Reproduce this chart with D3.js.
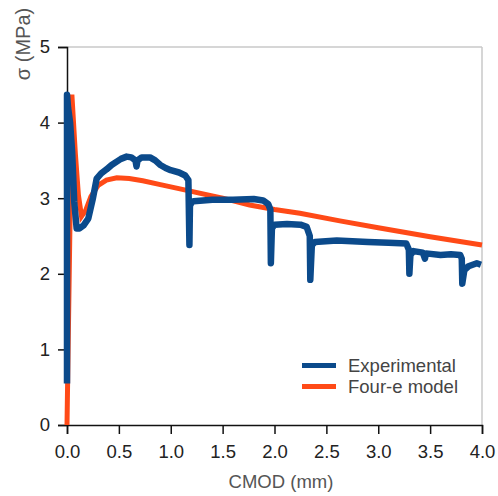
<!DOCTYPE html>
<html lang="en">
<head>
<meta charset="utf-8" />
<script src="https://cdn.jsdelivr.net/npm/d3@7"></script>
<style>
  body { margin: 0; background: #fff; }
  text { font-family: "Liberation Sans", Arial, sans-serif; }
</style>
</head>
<body>
<script>
// CMOD (mm) and stress (MPa)
var expX = [0.0, 0.0, 0.01, 0.03, 0.05, 0.07, 0.093, 0.12, 0.16, 0.205, 0.25, 0.286, 0.33, 0.38, 0.43, 0.52, 0.575, 0.62, 0.66, 0.67, 0.68, 0.72, 0.80, 0.85, 0.90, 0.95, 1.0, 1.08, 1.14, 1.17, 1.18, 1.185, 1.20, 1.22, 1.4, 1.6, 1.8, 1.89, 1.94, 1.96, 1.965, 1.975, 2.0, 2.12, 2.25, 2.31, 2.34, 2.345, 2.36, 2.39, 2.6, 2.9, 3.1, 3.27, 3.295, 3.30, 3.31, 3.34, 3.43, 3.45, 3.46, 3.6, 3.7, 3.79, 3.805, 3.81, 3.83, 3.87, 3.95, 3.99];
var expY = [0.55, 4.37, 4.2, 4.0, 3.6, 2.95, 2.6, 2.6, 2.64, 2.73, 3.0, 3.26, 3.33, 3.38, 3.44, 3.52, 3.55, 3.54, 3.5, 3.42, 3.5, 3.54, 3.54, 3.5, 3.44, 3.4, 3.37, 3.34, 3.3, 3.24, 2.38, 2.9, 2.94, 2.96, 2.98, 2.98, 2.99, 2.97, 2.92, 2.85, 2.14, 2.6, 2.65, 2.66, 2.65, 2.62, 2.5, 1.92, 2.38, 2.42, 2.44, 2.42, 2.41, 2.4, 2.32, 2.0, 2.25, 2.3, 2.28, 2.2, 2.27, 2.25, 2.26, 2.25, 2.2, 1.87, 2.05, 2.1, 2.14, 2.12];
var modX = [0.0, 0.047, 0.08, 0.11, 0.14, 0.18, 0.23, 0.3, 0.38, 0.48, 0.6, 0.73, 0.9, 1.2, 1.5, 1.76, 2.0, 2.245, 2.63, 3.0, 3.5, 4.0];
var modY = [0.0, 4.37, 3.6, 3.04, 2.76, 2.84, 3.02, 3.17, 3.24, 3.27, 3.26, 3.23, 3.18, 3.09, 3.0, 2.91, 2.85, 2.8, 2.7, 2.61, 2.49, 2.38];
var xTicks = [0, 0.5, 1, 1.5, 2, 2.5, 3, 3.5, 4];
var yTicks = [0, 1, 2, 3, 4, 5];
var seriesNames = ["Experimental", "Four-e model"];
var colors = ["#0b4a8b", "#ff4a17"];

var W = 498, H = 496;
var svg = d3.select("body").append("svg").attr("width", W).attr("height", H);

var x = d3.scaleLinear().domain([0, 4]).range([67, 482]);
var y = d3.scaleLinear().domain([0, 5]).range([425, 47]);

// frame
svg.append("line").attr("x1", x(0)).attr("x2", x(4)).attr("y1", y(5)).attr("y2", y(5))
   .attr("stroke", "#c8c8c8").attr("stroke-width", 1.5);
svg.append("line").attr("x1", x(4)).attr("x2", x(4)).attr("y1", y(5)).attr("y2", y(0))
   .attr("stroke", "#c8c8c8").attr("stroke-width", 1.5);

var xAxis = svg.append("g").attr("transform", "translate(0," + y(0) + ")")
   .call(d3.axisBottom(x).tickValues(xTicks).tickFormat(d3.format(".1f")).tickSize(9).tickPadding(11));
var yAxis = svg.append("g").attr("transform", "translate(" + x(0) + ",0)")
   .call(d3.axisLeft(y).tickValues(yTicks).tickFormat(d3.format("d")).tickSize(9).tickPadding(8));
[xAxis, yAxis].forEach(function(a) {
  a.select(".domain").attr("stroke", "#111").attr("stroke-width", 1.5);
  a.selectAll(".tick line").attr("stroke", "#111").attr("stroke-width", 1.5);
  a.selectAll(".tick text").attr("fill", "#222").style("font-size", "18.5px")
   .style("font-family", "'Liberation Sans', Arial, sans-serif");
});

var line = d3.line().x(function(d) { return x(d[0]); }).y(function(d) { return y(d[1]); });

svg.append("path").datum(d3.zip(modX, modY)).attr("d", line)
   .attr("fill", "none").attr("stroke", colors[1]).attr("stroke-width", 5);
svg.append("path").datum(d3.zip(expX, expY)).attr("d", line)
   .attr("fill", "none").attr("stroke", colors[0]).attr("stroke-width", 6.5)
   .attr("stroke-linejoin", "round").attr("stroke-linecap", "butt");

// axis titles
svg.append("text").attr("x", 281).attr("y", 488).attr("text-anchor", "middle")
   .attr("fill", "#555").style("font-size", "18.5px").text("CMOD (mm)");
svg.append("text").attr("transform", "translate(30,44) rotate(-90)").attr("text-anchor", "middle")
   .attr("fill", "#555").style("font-size", "20px").text("σ (MPa)");

// legend
var lg = svg.append("g").selectAll("g").data(seriesNames).enter().append("g")
   .attr("transform", function(d, i) { return "translate(302," + (365.5 + i * 21) + ")"; });
lg.append("line").attr("x1", 0).attr("x2", 34).attr("y1", 0).attr("y2", 0)
   .attr("stroke", function(d, i) { return colors[i]; }).attr("stroke-width", 5);
lg.append("text").attr("x", 46).attr("y", 6).attr("fill", "#444").style("font-size", "18.5px")
   .text(function(d) { return d; });
</script>
</body>
</html>
